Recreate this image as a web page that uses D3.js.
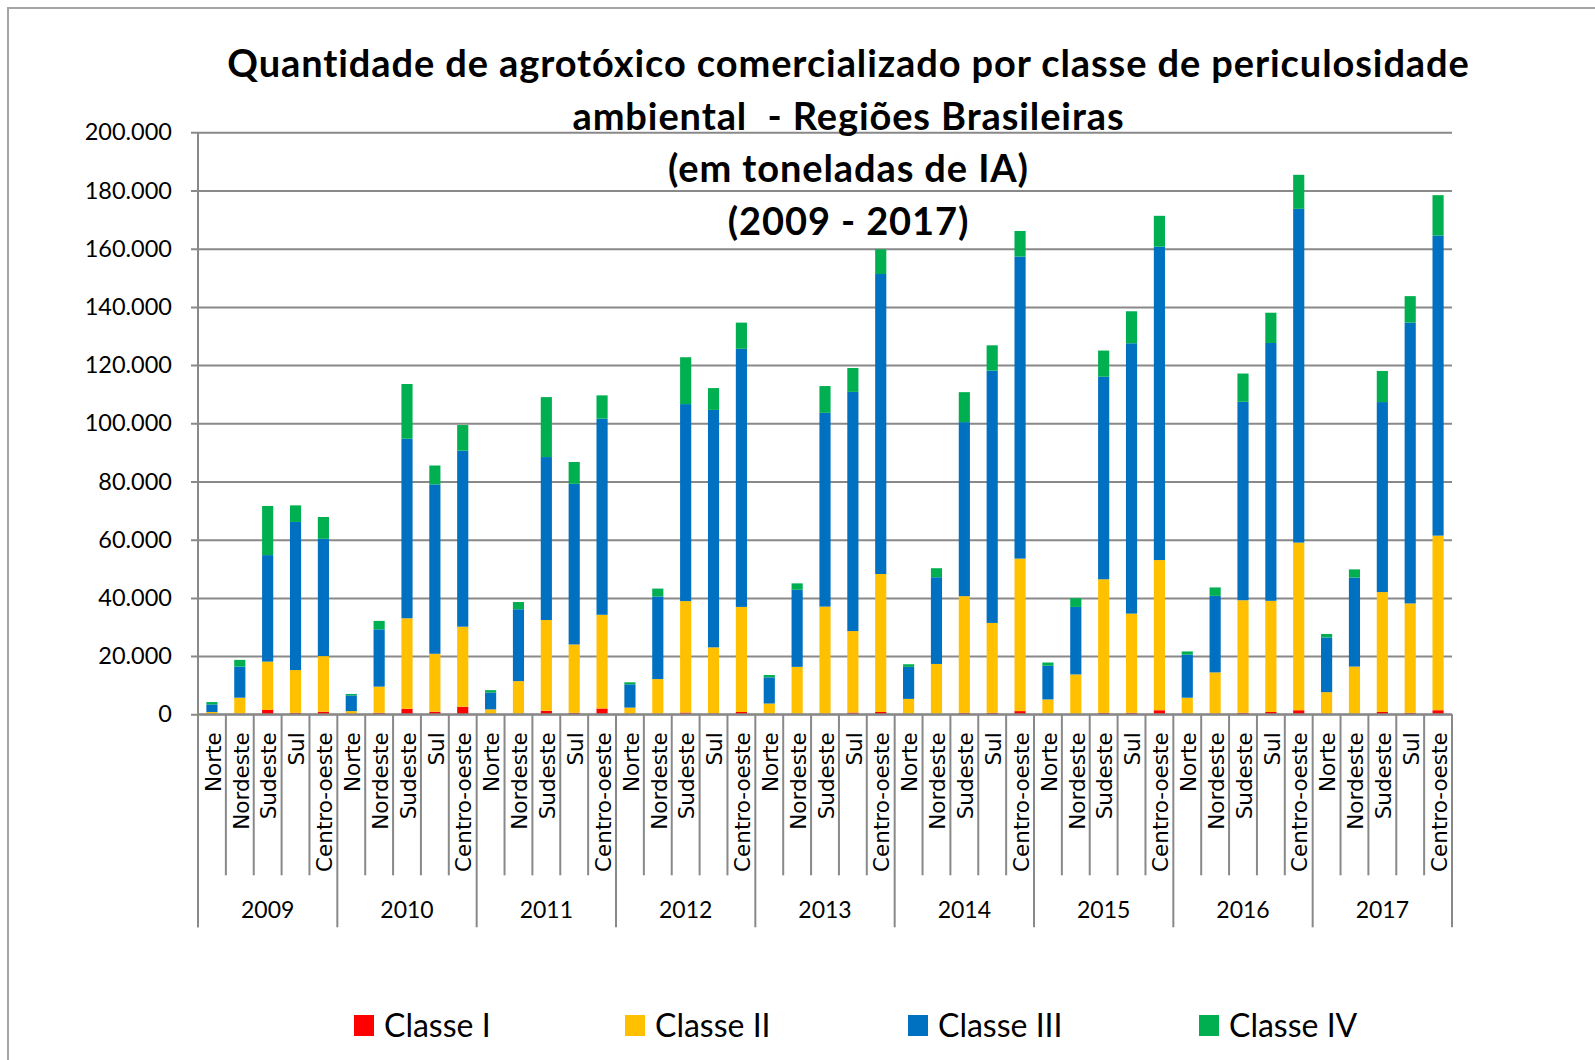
<!DOCTYPE html>
<html>
  <head>
    <meta charset="utf-8">
    <title>Agrotóxico por classe de periculosidade ambiental</title>
    <script src="https://d3js.org/d3.v7.min.js"></script>
    <style>
      body { margin: 0; background: #fff; }
      .grid line { stroke: #898989; stroke-width: 2; }
      .calib { font-family: Lato, "Liberation Sans", sans-serif; fill: #000; }
      .region { font-family: "DejaVu Sans", Verdana, sans-serif; font-size: 21.5px; fill: #000; }
    </style>
  </head>
  <body>
    <div id="chart"></div>
    <script>
      // data (toneladas de IA)
      var years = ["2009", "2010", "2011", "2012", "2013", "2014", "2015", "2016", "2017"];
      var regions = ["Norte", "Nordeste", "Sudeste", "Sul", "Centro-oeste"];
      var classes = ["Classe I", "Classe II", "Classe III", "Classe IV"];
      var colors = ["#ff0000", "#ffc000", "#0070c0", "#00b050"];

      var classI = [100, 200, 1500, 500, 900, 100, 500, 1900, 900, 2600, 100, 200, 1200, 500, 2000,
        100, 100, 600, 300, 800, 100, 100, 200, 600, 800, 100, 100, 500, 500, 1100,
        100, 100, 500, 500, 1400, 100, 200, 500, 800, 1400, 100, 200, 800, 500, 1400];
      var classII = [700, 5500, 16600, 14700, 19100, 1000, 9000, 31100, 19900, 27500, 1600, 11200, 31200, 23500, 32200,
        2200, 12000, 38300, 22700, 36100, 3600, 16200, 36800, 28000, 47400, 5200, 17200, 40100, 30900, 52400,
        5000, 13600, 45900, 34100, 51600, 5600, 14200, 38700, 38200, 57600, 7500, 16200, 41200, 37600, 60000];
      var classIII = [2600, 10700, 36600, 50900, 40300, 5400, 19700, 61700, 58200, 60500, 5800, 24700, 56000, 55200, 67400,
        8000, 28400, 67700, 81600, 88700, 9000, 26500, 66600, 82200, 103100, 11000, 29800, 59800, 86700, 103800,
        11600, 23200, 69600, 92900, 107700, 14800, 26300, 68200, 88600, 114700, 18800, 30600, 65300, 96500, 103100];
      var classIV = [800, 2300, 16900, 5700, 7500, 500, 2900, 18800, 6500, 8800, 800, 2500, 20600, 7500, 8000,
        700, 2700, 16100, 7500, 9000, 800, 2200, 9200, 8200, 8500, 900, 3100, 10300, 8700, 8800,
        1100, 3000, 9000, 11000, 10600, 1100, 2900, 9700, 10400, 11700, 1200, 2800, 10700, 9100, 13900];

      var yTicks = [0, 20000, 40000, 60000, 80000, 100000, 120000, 140000, 160000, 180000, 200000];
      var titleLines = ["Quantidade de agrotóxico comercializado por classe de periculosidade",
        "ambiental  - Regiões Brasileiras", "(em toneladas de IA)", "(2009 - 2017)"];

      var width = 1595, height = 1060;
      var plotLeft = 198, plotRight = 1452, plotTop = 132.3, plotBottom = 714.3;

      // rows for the stack
      var rows = [];
      years.forEach(function (yr, i) {
        regions.forEach(function (rg, j) {
          var k = i * regions.length + j;
          rows.push({ key: yr + "|" + rg, year: yr, region: rg,
            "Classe I": classI[k], "Classe II": classII[k], "Classe III": classIII[k], "Classe IV": classIV[k] });
        });
      });

      var svg = d3.select("#chart").append("svg")
        .attr("width", width)
        .attr("height", height);

      // outer frame
      svg.append("rect")
        .attr("x", 8).attr("y", 8)
        .attr("width", 1700).attr("height", 1200)
        .attr("fill", "#fff").attr("stroke", "#a5a5a5").attr("stroke-width", 2);

      var x = d3.scaleBand()
        .domain(rows.map(function (d) { return d.key; }))
        .range([plotLeft, plotRight])
        .paddingInner(0.6)
        .paddingOuter(0.3);

      var y = d3.scaleLinear().domain([0, 200000]).range([plotBottom, plotTop]);

      var fmt = d3.formatLocale({ decimal: ",", thousands: ".", grouping: [3], currency: ["R$", ""] }).format(",");

      // y axis with gridlines
      var yAxis = d3.axisLeft(y)
        .tickValues(yTicks)
        .tickSize(-(plotRight - plotLeft))
        .tickPadding(26)
        .tickFormat(fmt);

      var gy = svg.append("g")
        .attr("class", "grid")
        .attr("transform", "translate(" + plotLeft + ",0)")
        .call(yAxis);
      gy.select(".domain").remove();
      gy.selectAll(".tick line").attr("x1", -7);
      gy.selectAll(".tick text")
        .attr("class", "calib")
        .style("font-size", "23.5px")
        .attr("font-family", null);

      svg.append("line")
        .attr("x1", plotLeft).attr("x2", plotLeft)
        .attr("y1", plotTop).attr("y2", plotBottom + 213)
        .attr("stroke", "#898989").attr("stroke-width", 2);

      // stacked bars
      var stack = d3.stack().keys(classes);
      var series = stack(rows);

      svg.append("g")
        .selectAll("g")
        .data(series)
        .enter()
        .append("g")
        .attr("fill", function (d, i) { return colors[i]; })
        .selectAll("rect")
        .data(function (d) { return d; })
        .enter()
        .append("rect")
        .attr("x", function (d) { return x(d.data.key); })
        .attr("width", x.bandwidth())
        .attr("y", function (d) { return y(d[1]); })
        .attr("height", function (d) { return y(d[0]) - y(d[1]); });

      // category axis
      svg.append("line")
        .attr("x1", plotLeft).attr("x2", plotRight)
        .attr("y1", plotBottom).attr("y2", plotBottom)
        .attr("stroke", "#898989").attr("stroke-width", 2);

      var step = x.step();
      var bounds = d3.range(rows.length + 1);
      svg.append("g")
        .selectAll("line")
        .data(bounds)
        .enter()
        .append("line")
        .attr("x1", function (k) { return plotLeft + k * step; })
        .attr("x2", function (k) { return plotLeft + k * step; })
        .attr("y1", plotBottom)
        .attr("y2", function (k) { return k % regions.length === 0 ? plotBottom + 213 : plotBottom + 161; })
        .attr("stroke", "#898989").attr("stroke-width", 2);

      svg.append("g")
        .selectAll("text")
        .data(rows)
        .enter()
        .append("text")
        .attr("class", "region")
        .attr("transform", function (d) {
          return "translate(" + (x(d.key) + x.bandwidth() / 2 + 1) + "," + (plotBottom + 18) + ") rotate(-90)";
        })
        .attr("text-anchor", "end")
        .attr("dy", "0.36em")
        .text(function (d) { return d.region; });

      svg.append("g")
        .selectAll("text")
        .data(years)
        .enter()
        .append("text")
        .attr("class", "calib")
        .attr("x", function (d, i) { return plotLeft + (i + 0.5) * regions.length * step; })
        .attr("y", 918)
        .attr("text-anchor", "middle")
        .style("font-size", "23px")
        .text(function (d) { return d; });

      // title
      var titleY = [77, 129.5, 182, 234.5];
      svg.append("g")
        .selectAll("text")
        .data(titleLines)
        .enter()
        .append("text")
        .attr("class", "calib")
        .attr("x", 848.5)
        .attr("y", function (d, i) { return titleY[i]; })
        .attr("text-anchor", "middle")
        .style("font-size", "38px")
        .style("font-weight", "bold")
        .style("letter-spacing", "0.9px")
        .style("white-space", "pre")
        .text(function (d) { return d; });

      // legend
      var legendX = [354, 625, 908, 1199];
      var legend = svg.append("g")
        .selectAll("g")
        .data(classes)
        .enter()
        .append("g")
        .attr("transform", function (d, i) { return "translate(" + legendX[i] + ",1015)"; });

      legend.append("rect")
        .attr("width", 20).attr("height", 21)
        .attr("fill", function (d, i) { return colors[i]; });

      legend.append("text")
        .attr("class", "calib")
        .attr("x", 30)
        .attr("y", 21.5)
        .style("font-size", "32px")
        .text(function (d) { return d; });
    </script>
  </body>
</html>
